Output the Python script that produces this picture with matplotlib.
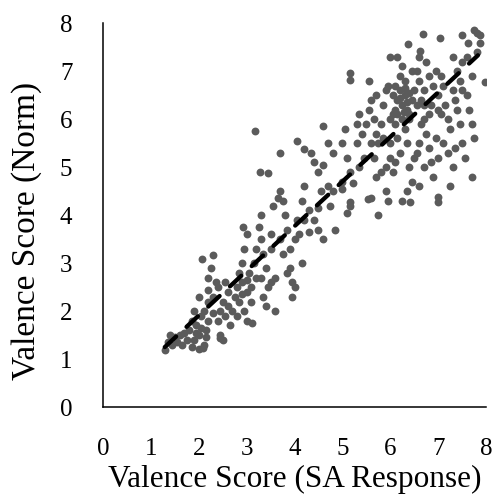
import numpy as np
import matplotlib
matplotlib.use("Agg")
import matplotlib.pyplot as plt

# points (SA response, norm)
pts = [
    (1.29, 1.19), (1.35, 1.35), (1.45, 1.3), (1.5, 1.45), (1.55, 1.35), (1.6, 1.5), (1.4, 1.5),
    (1.65, 1.3), (1.7, 1.55), (1.75, 1.4),
    (1.8, 1.6), (1.85, 1.8), (1.9, 1.4), (1.95, 1.7), (2.0, 1.2), (2.0, 1.5), (2.05, 1.9),
    (2.1, 1.3), (2.1, 2.0), (2.15, 1.6), (2.2, 1.8), (1.9, 2.0), (2.0, 2.3), (2.2, 2.2),
    (1.85, 1.25), (2.05, 1.65), (2.15, 1.45), (1.95, 1.55), (2.09, 1.23),
    (2.07, 3.08), (2.3, 3.17), (2.25, 2.9), (2.2, 2.7), (2.35, 2.6), (2.4, 2.5), (2.3, 2.3),
    (2.5, 2.2), (2.45, 2.0), (2.55, 1.9), (2.6, 2.1), (2.4, 1.8), (2.44, 1.5), (2.44, 1.44),
    (2.5, 1.4), (2.3, 1.95), (2.6, 2.4), (2.2, 2.45), (2.55, 2.6), (2.65, 1.7), (2.7, 2.0),
    (2.75, 2.3),
    (2.8, 2.5), (2.85, 2.8), (2.9, 3.0), (2.92, 3.75), (3.0, 3.6), (2.85, 2.2), (2.9, 2.6),
    (3.0, 2.4), (3.05, 2.8), (2.95, 2.0), (3.0, 1.8), (2.8, 1.9), (3.1, 2.2), (3.1, 2.5),
    (3.15, 3.0), (3.11, 1.75), (3.2, 2.7), (3.2, 3.3), (2.9, 2.35), (3.0, 2.65), (2.95, 3.3),
    (3.17, 5.75), (3.28, 4.9), (3.44, 4.87), (3.3, 3.5), (3.35, 3.2), (3.4, 2.9), (3.45, 2.5),
    (3.4, 2.1), (3.35, 2.3), (3.5, 3.3), (3.5, 3.6), (3.3, 4.0), (3.55, 4.2), (3.25, 3.75),
    (3.6, 2.7), (3.6, 2.0), (3.5, 2.6), (3.3, 2.7),
    (3.7, 4.5), (3.75, 4.3), (3.8, 4.0), (3.85, 3.7), (3.9, 3.3), (3.9, 2.9), (3.95, 2.6),
    (4.0, 2.5), (3.95, 2.3), (3.85, 2.8), (3.7, 3.5), (3.75, 3.2), (4.0, 3.5), (4.1, 3.6),
    (4.05, 3.9), (4.05, 5.54), (3.7, 5.29), (4.2, 5.37), (4.15, 4.3), (4.2, 4.6), (4.2, 3.9),
    (4.15, 3.0), (3.65, 4.35),
    (4.35, 5.3), (4.4, 5.1), (4.5, 4.9), (4.6, 5.05), (4.59, 5.85), (4.3, 4.1), (4.4, 3.9),
    (4.5, 3.7), (4.55, 4.5), (4.6, 3.5), (4.7, 4.6), (4.75, 4.2), (4.8, 4.5), (4.8, 5.3),
    (4.7, 5.5), (4.5, 4.15), (4.85, 3.7), (4.3, 3.65),
    (5.0, 5.5), (5.05, 5.8), (5.1, 5.2), (5.15, 4.9), (5.16, 6.96), (5.16, 6.81), (5.22, 4.67),
    (5.0, 4.7), (5.3, 5.5), (5.3, 5.9), (5.35, 6.1), (5.4, 5.7), (5.16, 4.27), (5.16, 4.2),
    (5.1, 4.05), (5.45, 5.2), (5.0, 4.55), (5.35, 5.0), (5.53, 4.33),
    (5.55, 6.2), (5.6, 6.4), (5.65, 6.0), (5.7, 5.7), (5.75, 5.5), (5.8, 5.9), (5.85, 6.3),
    (5.9, 6.6), (5.95, 6.7), (5.6, 5.5), (5.65, 5.2), (5.7, 4.8), (5.8, 4.9), (5.9, 4.5),
    (5.95, 4.3), (5.75, 4.0), (5.6, 4.35), (6.0, 5.2), (5.85, 5.6), (6.0, 6.0), (5.55, 6.8),
    (5.99, 7.29), (5.9, 5.0), (5.7, 6.5), (5.5, 5.9),
    (6.05, 6.5), (6.1, 6.7), (6.15, 6.4), (6.2, 6.6), (6.25, 6.3), (6.3, 6.5), (6.35, 6.2),
    (6.1, 6.2), (6.2, 6.9), (6.25, 7.1), (6.3, 6.8), (6.37, 7.56), (6.45, 7.0), (6.1, 5.9),
    (6.15, 5.6), (6.2, 5.3), (6.3, 5.8), (6.35, 5.5), (6.4, 5.0), (6.45, 4.7), (6.24, 4.3),
    (6.41, 4.27), (6.05, 4.9), (6.1, 5.1), (6.4, 6.0), (6.45, 6.4), (6.5, 6.6), (6.5, 5.2),
    (6.35, 4.5), (6.25, 6.0), (6.15, 7.3), (6.62, 7.42), (6.0, 5.5), (6.05, 6.1), (6.4, 6.1),
    (6.2, 6.45), (6.3, 6.65), (6.35, 6.35), (6.15, 6.1), (6.4, 6.55), (6.28, 6.15),
    (6.55, 7.0), (6.6, 6.8), (6.65, 6.4), (6.7, 6.0), (6.75, 5.7), (6.8, 5.4), (6.85, 5.1),
    (6.9, 4.8), (6.99, 4.37), (6.99, 4.27), (6.6, 5.5), (6.65, 5.9), (6.7, 6.6), (6.75, 7.2),
    (6.68, 7.77), (6.85, 6.3), (6.9, 6.7), (6.95, 7.0), (7.0, 6.5), (7.0, 6.2), (6.6, 4.6),
    (6.7, 5.0), (6.55, 5.3), (6.8, 6.1), (6.6, 7.3), (6.95, 5.6), (7.0, 5.2), (7.04, 7.7),
    (6.55, 6.3), (6.7, 6.3), (6.8, 6.9),
    (7.05, 6.9), (7.1, 6.7), (7.15, 6.3), (7.2, 6.0), (7.25, 5.8), (7.3, 6.6), (7.35, 6.4),
    (7.4, 6.2), (7.45, 5.9), (7.1, 5.5), (7.2, 5.3), (7.3, 5.0), (7.35, 5.4), (7.3, 7.3),
    (7.4, 7.0), (7.45, 6.8), (7.5, 5.5), (7.05, 6.1), (7.5, 6.6), (7.5, 7.2), (7.25, 4.6),
    (7.6, 6.5), (7.65, 6.2), (7.7, 5.9), (7.75, 5.6), (7.7, 4.8), (7.62, 7.58), (7.87, 7.58),
    (7.5, 7.75), (7.75, 7.85), (7.8, 7.8), (7.87, 7.75), (7.97, 6.77), (7.7, 6.9), (7.6, 7.3),
    (7.55, 5.2), (7.8, 7.4),
]
sa_resp = [p[0] for p in pts]
norm = [p[1] for p in pts]

# linear trend
trend_x = [1.29, 7.83]
slope, icpt = 0.93, 0.05

plt.rcParams['font.family'] = 'Liberation Serif'
fig = plt.figure(figsize=(4.96, 4.94), dpi=100)
ax = fig.add_axes([0.2077, 0.176, 0.7723, 0.777])

ax.scatter(sa_resp, norm, s=32, color='#5b5b5b', linewidths=0, zorder=2)
tx = np.array(trend_x)
ax.plot(tx, slope * tx + icpt, color='black', lw=3.1, dashes=(3.6, 3.3),
        solid_capstyle='round', dash_capstyle='round', zorder=3)

ax.set_xlim(0, 8)
ax.set_ylim(0, 8)
ax.set_xticks(range(0, 9))
ax.set_yticks(range(0, 9))
ax.tick_params(length=0, labelsize=18, pad=22)
for s in ['top', 'right']:
    ax.spines[s].set_visible(False)
for s in ['left', 'bottom']:
    ax.spines[s].set_linewidth(1.1)

ax.set_xlabel('Valence Score (SA Response)', fontsize=22.5, labelpad=4)
ax.set_ylabel('Valence Score (Norm)', fontsize=24)
ax.yaxis.set_label_coords(-0.158, 0.46)

fig.savefig('out.png', dpi=100)
